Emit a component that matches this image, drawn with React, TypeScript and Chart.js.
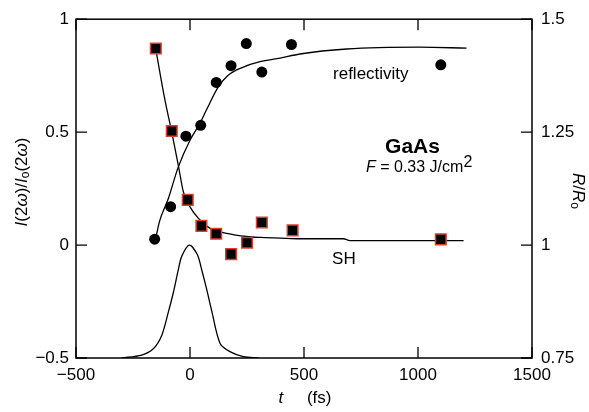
import { useEffect, useRef } from 'react';
import { Chart, registerables } from 'chart.js';

Chart.register(...registerables);

const FONT = "'Liberation Sans', Arial, Helvetica, sans-serif";

// SH data (left axis, I(2w)/Io(2w))
const shTime = [-150, -80, -10, 50, 115, 180, 250, 315, 450, 1100];
const shSignal = [0.87, 0.505, 0.2, 0.085, 0.05, -0.04, 0.01, 0.1, 0.065, 0.025];
// Reflectivity data (right axis, R/Ro)
const reflTime = [-155, -85, -18, 47, 115, 180, 247, 315, 445, 1100];
const reflRatio = [1.013, 1.085, 1.241, 1.265, 1.36, 1.397, 1.446, 1.383, 1.444, 1.399];
// SH fit curve (left axis)
const shFitTime = [-150, -110, -80, -51, -29, 0, 37, 88, 161, 249, 307, 395, 482, 672, 702, 1200];
const shFitValue = [0.866, 0.643, 0.5, 0.352, 0.235, 0.169, 0.118, 0.074, 0.052, 0.038, 0.034, 0.031, 0.028, 0.028, 0.02, 0.02];
// Reflectivity fit curve (right axis)
const reflFitTime = [-150, -134, -95, -52, 0, 44, 73, 124, 165, 234, 307, 395, 482, 687, 1009, 1213];
const reflFitRatio = [1.015, 1.052, 1.103, 1.172, 1.232, 1.27, 1.3, 1.35, 1.375, 1.394, 1.406, 1.414, 1.423, 1.434, 1.438, 1.436];
// Pump pulse profile (left axis)
const pulseTime = [-300, -212, -161, -124, -95, -73, -51, -36, -3, 32, 51, 73, 95, 132, 175, 234, 300];
const pulseValue = [-0.5, -0.487, -0.459, -0.4, -0.297, -0.21, -0.108, -0.049, 0, -0.042, -0.108, -0.195, -0.29, -0.436, -0.472, -0.494, -0.5];

// Axis ticks
const xTicks = [-500, 0, 500, 1000, 1500];
const yTicks = [-0.5, 0, 0.5, 1];
const y2Ticks = [0.75, 1, 1.25, 1.5];

const pts = (xs: number[], ys: number[]) => xs.map((x, i) => ({ x, y: ys[i] }));
const fmt = (v: number | string) => String(v).replace('-', '\u2212');

type Run = { t: string; f: string; dy?: number };

function drawRuns(ctx: CanvasRenderingContext2D, runs: Run[], cx: number, cy: number, rot: number, align: 'center' | 'left' = 'center') {
  ctx.save();
  ctx.translate(cx, cy);
  ctx.rotate(rot);
  ctx.textBaseline = 'middle';
  ctx.textAlign = 'left';
  ctx.fillStyle = '#000';
  let total = 0;
  for (const r of runs) {
    ctx.font = r.f;
    total += ctx.measureText(r.t).width;
  }
  let x = align === 'center' ? -total / 2 : 0;
  for (const r of runs) {
    ctx.font = r.f;
    ctx.fillText(r.t, x, r.dy || 0);
    x += ctx.measureText(r.t).width;
  }
  ctx.restore();
}

const framePlugin = {
  id: 'frameAndText',
  afterDraw(chart: any) {
    const ctx: CanvasRenderingContext2D = chart.ctx;
    const { left, right, top, bottom } = chart.chartArea;
    const sx = chart.scales.x;
    const sy = chart.scales.y;
    const sy2 = chart.scales.y2;
    ctx.save();
    ctx.strokeStyle = '#000';
    ctx.lineWidth = 1.5;
    ctx.strokeRect(left, top, right - left, bottom - top);
    ctx.lineWidth = 1.3;
    ctx.beginPath();
    const tl = 11;
    for (const v of xTicks) {
      const px = sx.getPixelForValue(v);
      ctx.moveTo(px, bottom);
      ctx.lineTo(px, bottom - tl);
      ctx.moveTo(px, top);
      ctx.lineTo(px, top + tl);
    }
    for (const v of yTicks) {
      const py = sy.getPixelForValue(v);
      ctx.moveTo(left, py);
      ctx.lineTo(left + tl, py);
    }
    for (const v of y2Ticks) {
      const py = sy2.getPixelForValue(v);
      ctx.moveTo(right, py);
      ctx.lineTo(right - tl, py);
    }
    ctx.stroke();
    ctx.restore();

    const n17 = `17px ${FONT}`;
    const i17 = `italic 17px ${FONT}`;
    const s12 = `12px ${FONT}`;

    // axis titles
    drawRuns(ctx, [
      { t: 'I', f: i17 }, { t: '(2', f: n17 }, { t: '\u03c9', f: i17 }, { t: ')/', f: n17 },
      { t: 'I', f: i17 }, { t: 'o', f: s12, dy: 4 }, { t: '(2', f: n17 }, { t: '\u03c9', f: i17 }, { t: ')', f: n17 },
    ], 22, 182, -Math.PI / 2);
    drawRuns(ctx, [
      { t: 'R', f: i17 }, { t: '/', f: n17 }, { t: 'R', f: i17 }, { t: 'o', f: s12, dy: 4 },
    ], 578, 191, Math.PI / 2);
    drawRuns(ctx, [
      { t: 't', f: i17 }, { t: '     ', f: n17 }, { t: '(fs)', f: n17 },
    ], (left + right) / 2 + 1, 398, 0);

    // in-plot annotations
    drawRuns(ctx, [{ t: 'reflectivity', f: n17 }], sx.getPixelForValue(793), sy.getPixelForValue(0.756), 0);
    drawRuns(ctx, [{ t: 'SH', f: n17 }], sx.getPixelForValue(675), sy.getPixelForValue(-0.064), 0);
    drawRuns(ctx, [{ t: 'GaAs', f: `bold 21px ${FONT}` }], sx.getPixelForValue(976), sy.getPixelForValue(0.432), 0);
    drawRuns(ctx, [
      { t: 'F', f: `italic 16px ${FONT}` }, { t: ' = 0.33 J/cm', f: `16px ${FONT}` }, { t: '2', f: `16px ${FONT}`, dy: -5 },
    ], sx.getPixelForValue(772), sy.getPixelForValue(0.344), 0, 'left');
  },
};

export default function App() {
  const ref = useRef<HTMLCanvasElement | null>(null);
  useEffect(() => {
    if (!ref.current) return;
    const tickFont = { size: 17, family: FONT };
    const chart = new Chart(ref.current, {
      type: 'line',
      data: {
        datasets: [
          {
            label: 'SH',
            data: pts(shTime, shSignal),
            yAxisID: 'y',
            showLine: false,
            pointStyle: 'rect',
            pointRadius: 7.5,
            backgroundColor: '#000',
            borderColor: '#d8402c',
            borderWidth: 1.5,
          },
          {
            label: 'reflectivity',
            data: pts(reflTime, reflRatio),
            yAxisID: 'y2',
            showLine: false,
            pointStyle: 'circle',
            pointRadius: 5.5,
            backgroundColor: '#000',
            borderColor: '#000',
            borderWidth: 0,
          },
          {
            label: 'SH fit',
            data: pts(shFitTime, shFitValue),
            yAxisID: 'y',
            pointRadius: 0,
            borderColor: '#000',
            borderWidth: 1.3,
            cubicInterpolationMode: 'monotone',
            fill: false,
          },
          {
            label: 'reflectivity fit',
            data: pts(reflFitTime, reflFitRatio),
            yAxisID: 'y2',
            pointRadius: 0,
            borderColor: '#000',
            borderWidth: 1.3,
            cubicInterpolationMode: 'monotone',
            fill: false,
          },
          {
            label: 'pulse',
            data: pts(pulseTime, pulseValue),
            yAxisID: 'y',
            pointRadius: 0,
            borderColor: '#000',
            borderWidth: 1.3,
            tension: 0.3,
            fill: false,
          },
        ],
      },
      options: {
        animation: false,
        responsive: false,
        devicePixelRatio: 1,
        layout: { padding: { top: 15, left: 0, right: 0, bottom: 0 } },
        plugins: { legend: { display: false }, tooltip: { enabled: false } },
        scales: {
          x: {
            type: 'linear',
            min: -500,
            max: 1500,
            afterBuildTicks: (s: any) => { s.ticks = xTicks.map((v) => ({ value: v })); },
            ticks: { padding: 7, color: '#000', font: tickFont, maxRotation: 0, autoSkip: false, callback: fmt },
            grid: { display: false, drawTicks: false },
            border: { display: false },
            afterFit: (s: any) => { s.height = 54; },
          },
          y: {
            type: 'linear',
            position: 'left',
            min: -0.5,
            max: 1,
            afterBuildTicks: (s: any) => { s.ticks = yTicks.map((v) => ({ value: v })); },
            ticks: { padding: 7, color: '#000', font: tickFont, autoSkip: false, callback: fmt },
            grid: { display: false, drawTicks: false },
            border: { display: false },
            afterFit: (s: any) => { s.width = 76; },
          },
          y2: {
            type: 'linear',
            position: 'right',
            min: 0.75,
            max: 1.5,
            afterBuildTicks: (s: any) => { s.ticks = y2Ticks.map((v) => ({ value: v })); },
            ticks: { padding: 9, color: '#000', font: tickFont, autoSkip: false, callback: fmt },
            grid: { display: false, drawTicks: false },
            border: { display: false },
            afterFit: (s: any) => { s.width = 57; },
          },
        },
      },
      plugins: [framePlugin],
    } as any);
    return () => chart.destroy();
  }, []);
  return (
    <div style={{ position: 'absolute', left: 0, top: 0, width: 589, height: 412, background: '#fff' }}>
      <canvas ref={ref} width={589} height={412} style={{ display: 'block', width: 589, height: 412 }} />
    </div>
  );
}
